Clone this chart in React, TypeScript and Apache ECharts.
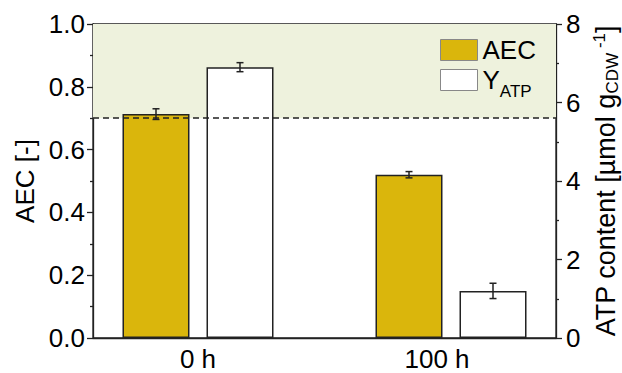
import React, { useEffect, useRef } from 'react';
import * as echarts from 'echarts';

const categories = ['0 h', '100 h'];
const aecValues = [0.713, 0.52];
const aecErrors = [0.017, 0.01];
const atpValues = [6.9, 1.2];
const atpErrors = [0.115, 0.195];
const aecThreshold = 0.7;
const aecRange = [0, 1];
const atpRange = [0, 8];

const FONT = 'Liberation Sans, Arial, sans-serif';
const BAR_W = 67;
const BAR_GAP = 17;
const INK = '#222';

function errorSeries(name: string, values: number[], errors: number[], yAxisIndex: number, side: number) {
  return {
    name,
    type: 'custom',
    yAxisIndex,
    z: 6,
    silent: true,
    data: values.map((v, i) => [i, v, errors[i]]),
    encode: { x: 0, y: 1 },
    renderItem: (params: any, api: any) => {
      const i = api.value(0);
      const v = api.value(1);
      const e = api.value(2);
      const top = api.coord([i, v + e]);
      const bot = api.coord([i, v - e]);
      const x = top[0] + side * (BAR_W + BAR_GAP) / 2;
      const cap = 3.5;
      const style = { stroke: INK, lineWidth: 1.5 };
      return {
        type: 'group',
        children: [
          { type: 'line', shape: { x1: x, y1: top[1], x2: x, y2: bot[1] }, style },
          { type: 'line', shape: { x1: x - cap, y1: top[1], x2: x + cap, y2: top[1] }, style },
          { type: 'line', shape: { x1: x - cap, y1: bot[1], x2: x + cap, y2: bot[1] }, style },
        ],
      };
    },
  };
}

export default function App() {
  const ref = useRef<HTMLDivElement>(null);
  useEffect(() => {
    if (!ref.current) return;
    const chart = echarts.init(ref.current, null, { renderer: 'svg' });
    const axisLine = { show: true, onZero: false, lineStyle: { color: INK, width: 1.3 } };
    chart.setOption({
      animation: false,
      backgroundColor: '#fff',
      textStyle: { fontFamily: FONT, color: '#000' },
      grid: {
        left: 93, right: 66, top: 24, bottom: 35,
        outerBoundsMode: 'none',
        containLabel: false,
        show: true, borderColor: INK, borderWidth: 1.3, backgroundColor: 'transparent',
      },
      legend: {
        orient: 'vertical',
        left: 440,
        top: 37,
        padding: 0,
        itemWidth: 37,
        itemHeight: 21,
        itemGap: 4,
        icon: 'rect',
        data: ['AEC', 'Y_ATP'],
        itemStyle: { borderColor: '#888', borderWidth: 1 },
        formatter: (name: string) => (name === 'Y_ATP' ? '{m|Y}{s|ATP}' : '{m|AEC}'),
        textStyle: {
          fontFamily: FONT,
          color: '#000',
          rich: {
            m: { fontSize: 26, fontFamily: FONT, color: '#000', lineHeight: 28 },
            s: { fontSize: 17, fontFamily: FONT, color: '#000', verticalAlign: 'bottom', lineHeight: 17, padding: [0, 0, -6, 0] },
          },
        },
      },
      xAxis: {
        type: 'value',
        min: -0.415,
        max: 1.415,
        axisLine,
        axisTick: { show: false },
        splitLine: { show: false },
        axisLabel: {
          customValues: categories.map((_, i) => i),
          formatter: (v: number) => (Math.round(v) === 1 ? '{b|' + categories[1] + '}' : categories[Math.round(v)]),
          fontSize: 26,
          fontFamily: FONT,
          color: '#000',
          margin: 8,
          rich: { b: { fontSize: 26, fontFamily: FONT, color: '#000', padding: [0, 28, 0, 0] } },
        },
      },
      yAxis: [
        {
          type: 'value',
          min: aecRange[0],
          max: aecRange[1],
          interval: 0.2,
          position: 'left',
          name: 'AEC [-]',
          nameLocation: 'middle',
          nameRotate: 90,
          nameGap: 52,
          nameTextStyle: { fontSize: 26, fontFamily: FONT, color: '#000' },
          axisLine,
          axisTick: { show: true, inside: false, length: 6, lineStyle: { color: INK, width: 1.3 } },
          minorTick: { show: true, splitNumber: 2, length: 3, lineStyle: { color: INK, width: 1.3 } },
          splitLine: { show: false },
          axisLabel: { fontSize: 26, fontFamily: FONT, color: '#000', margin: 8, formatter: (v: number) => v.toFixed(1) },
        },
        {
          type: 'value',
          min: atpRange[0],
          max: atpRange[1],
          interval: 2,
          position: 'right',
          name: '{n|ATP content [µmol g}{sub|CDW}{sup| -1}{n|]}',
          nameLocation: 'middle',
          nameRotate: 90,
          nameGap: 35,
          nameTextStyle: {
            fontSize: 27,
            fontFamily: FONT,
            color: '#000',
            rich: {
              n: { fontSize: 27, fontFamily: FONT, color: '#000', lineHeight: 30 },
              sub: { fontSize: 17, fontFamily: FONT, color: '#000', verticalAlign: 'bottom', lineHeight: 17 },
              sup: { fontSize: 17, fontFamily: FONT, color: '#000', verticalAlign: 'top', lineHeight: 17 },
            },
          },
          axisLine,
          axisTick: { show: true, inside: false, length: 6, lineStyle: { color: INK, width: 1.3 } },
          minorTick: { show: true, splitNumber: 2, length: 3, lineStyle: { color: INK, width: 1.3 } },
          splitLine: { show: false },
          axisLabel: { fontSize: 26, fontFamily: FONT, color: '#000', margin: 10 },
        },
      ],
      series: [
        {
          name: 'band',
          type: 'line',
          yAxisIndex: 0,
          data: [],
          silent: true,
          markArea: {
            silent: true,
            z: 1,
            itemStyle: { color: '#eef2dd' },
            data: [[{ yAxis: aecThreshold }, { yAxis: aecRange[1] }]],
          },
        },
        {
          name: 'AEC',
          type: 'bar',
          yAxisIndex: 0,
          z: 2,
          barWidth: BAR_W,
          barGap: (BAR_GAP / BAR_W * 100).toFixed(1) + '%',
          data: aecValues.map((v, i) => [i, v]),
          itemStyle: { color: '#dab60c', borderColor: INK, borderWidth: 1.5 },
        },
        {
          name: 'Y_ATP',
          type: 'bar',
          yAxisIndex: 1,
          z: 2,
          barWidth: BAR_W,
          barGap: (BAR_GAP / BAR_W * 100).toFixed(1) + '%',
          data: atpValues.map((v, i) => [i, v]),
          itemStyle: { color: '#ffffff', borderColor: INK, borderWidth: 1.5 },
        },
        {
          name: 'threshold',
          type: 'line',
          yAxisIndex: 0,
          data: [],
          silent: true,
          z: 8,
          markLine: {
            silent: true,
            z: 8,
            symbol: ['none', 'none'],
            label: { show: false },
            lineStyle: { color: INK, type: [6, 4], width: 1.5 },
            data: [{ yAxis: aecThreshold }],
          },
        },
        errorSeries('AEC err', aecValues, aecErrors, 0, -1),
        errorSeries('ATP err', atpValues, atpErrors, 1, 1),
      ],
    });
    return () => chart.dispose();
  }, []);
  return <div ref={ref} style={{ position: 'fixed', left: 0, top: 0, width: 622, height: 373 }} />;
}
